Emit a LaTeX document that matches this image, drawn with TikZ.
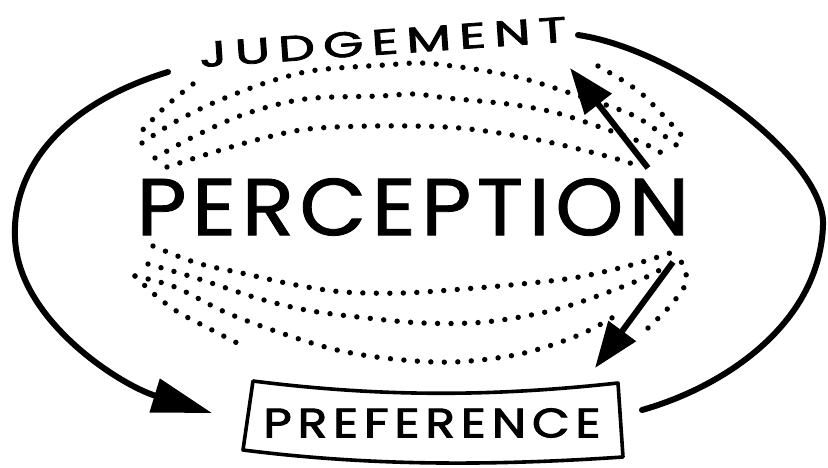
\documentclass[tikz,border=0pt]{standalone}
\usepackage{graphicx}
\usepackage{fontspec}
\newfontfamily\hand[FakeBold=2.2]{Poppins}
\newfontfamily\handbig[FakeBold=1.0]{Poppins}
\usetikzlibrary{arrows.meta}
\begin{document}
\begin{tikzpicture}[x=1pt,y=-1pt,
  curve/.style={line width=6pt, line cap=round},
  fielddots/.style={line width=5.4pt, line cap=round, dash pattern=on 0pt off 13.5pt},
  bigtip/.style={-{Triangle[length=60pt,width=34pt]}},
  smalltip/.style={line width=6pt, -{Triangle[length=46pt,width=33pt]}},
  label/.style={inner sep=0pt, outer sep=0pt}]
\fill[white] (0,0) rectangle (828,467);
\useasboundingbox (0,0) rectangle (828,467);

% texts
\node[label, rotate=4] (judg) at (383,42)
  {\resizebox{368pt}{25pt}{\hand\fontsize{34}{34}\selectfont\addfontfeature{LetterSpace=16}JUDGEMENT}};
\node[label] (perc) at (413,207)
  {\resizebox{553pt}{57pt}{\handbig\fontsize{80}{80}\selectfont\addfontfeature{LetterSpace=6}PERCEPTION}};
\node[label] (pref) at (432,423)
  {\resizebox{337pt}{29pt}{\hand\fontsize{40}{40}\selectfont\addfontfeature{LetterSpace=12}PREFERENCE}};

% banner round PREFERENCE
\draw[line width=3.6pt, line join=round]
  (253,381) .. controls (380,397) and (490,397) .. (618,383)
  -- (623,457) .. controls (490,466) and (370,466) .. (243,450) -- cycle;

% connector end points
\coordinate (jl) at (168,72);
\coordinate (pl) at (212,413);
\coordinate (jr) at (578,35);
\coordinate (pr) at (642,410);
\coordinate (ua1) at (648,168);
\coordinate (ua2) at (570,68);
\coordinate (la1) at (673,262);
\coordinate (la2) at (595,368);

% big loop
\draw[curve, bigtip] (jl) .. controls (60,105) and (12,170) .. (15,238)
  .. controls (18,320) and (120,385) .. (pl);
\draw[curve] (jr) .. controls (680,50) and (826,160) .. (823,225)
  .. controls (820,320) and (730,385) .. (pr);

% small arrows
\draw[smalltip] (ua1) -- (ua2);
\draw[smalltip] (la1) -- (la2);

% upper dotted field lines
\draw[fielddots] plot[smooth, tension=0.55] coordinates {(193,84) (165,107) (138,135)};
\draw[fielddots] plot[smooth, tension=0.55] coordinates {(142,143) (173,123) (213,103) (262,84) (305,72) (338,68) (385,65) (421,63) (460,67) (492,72) (525,79) (567,92) (628,113) (655,129) (680,148)};
\draw[fielddots] plot[smooth, tension=0.55] coordinates {(598,66) (622,80) (642,94) (658,110) (674,127) (684,138)};
\draw[fielddots] plot[smooth, tension=0.55] coordinates {(155,158) (193,137) (245,114) (305,99) (380,96) (414,94) (447,98) (508,104) (553,112) (597,126) (643,143) (668,157)};
\draw[fielddots] plot[smooth, tension=0.55] coordinates {(167,167) (211,153) (260,139) (308,129) (373,126) (446,127) (499,133) (553,143) (610,157) (633,164)};

% lower dotted field lines
\draw[fielddots] plot[smooth, tension=0.55] coordinates {(135,276) (154,294) (178,312) (212,330) (245,347)};
\draw[fielddots] plot[smooth, tension=0.55] coordinates {(153,246) (197,263) (246,274) (296,285) (344,292) (403,293) (463,289) (521,284) (579,277) (635,264) (673,252)};
\draw[fielddots] plot[smooth, tension=0.55] coordinates {(148,264) (196,278) (257,298) (306,310) (358,317) (423,323) (485,322) (550,311) (603,294) (653,274) (668,262)};
\draw[fielddots] plot[smooth, tension=0.55] coordinates {(135,276) (175,287) (225,312) (281,333) (337,350) (393,359) (454,362) (520,354) (579,335) (622,312)};
\draw[fielddots] plot[smooth, tension=0.55] coordinates {(648,328) (670,306) (686,283) (683,265) (673,252)};
\end{tikzpicture}
\end{document}
